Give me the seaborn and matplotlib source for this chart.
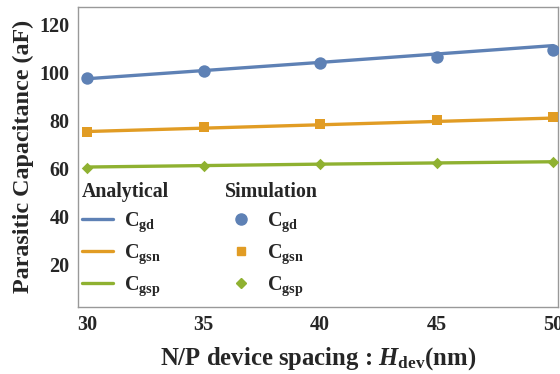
import matplotlib
matplotlib.use("Agg")
import matplotlib.pyplot as plt
from matplotlib.lines import Line2D
import seaborn as sns

spacing = [30, 35, 40, 45, 50]

# analytical model
ana_cgd = [97.5, 100.9, 104.3, 107.8, 111.3]
ana_cgsn = [75.5, 76.9, 78.3, 79.7, 81.1]
ana_cgsp = [60.7, 61.3, 61.9, 62.4, 62.9]

# simulation
sim_cgd = [97.7, 100.7, 103.9, 106.5, 109.6]
sim_cgsn = [75.5, 77.2, 78.6, 80.5, 81.6]
sim_cgsp = [60.5, 61.1, 62.0, 62.3, 62.8]

labels = [r"$\mathbf{C_{gd}}$", r"$\mathbf{C_{gsn}}$", r"$\mathbf{C_{gsp}}$"]
colors = ["#5E81B5", "#E19C24", "#8FB131"]
markers = ["o", "s", "D"]
msizes = [80, 48, 34]

sns.set_style("white")
plt.rcParams["font.family"] = ["Liberation Serif", "DejaVu Serif"]
plt.rcParams["font.weight"] = "bold"
plt.rcParams["mathtext.fontset"] = "custom"
plt.rcParams["mathtext.rm"] = "Liberation Serif:bold"
plt.rcParams["mathtext.bf"] = "Liberation Serif:bold"
plt.rcParams["mathtext.it"] = "Liberation Serif:bold:italic"

fig, ax = plt.subplots(figsize=(5.6, 3.74), dpi=100)

for i, (a, s) in enumerate(zip([ana_cgd, ana_cgsn, ana_cgsp], [sim_cgd, sim_cgsn, sim_cgsp])):
    sns.lineplot(x=spacing, y=a, color=colors[i], lw=2.4, ax=ax, zorder=2)
    sns.scatterplot(x=spacing, y=s, color=colors[i], marker=markers[i], s=msizes[i],
                    zorder=3, linewidth=0, ax=ax)

ax.set_xlim(29.6, 50.2)
ax.set_ylim(2.5, 127.5)
ax.set_xticks([30, 35, 40, 45, 50])
ax.set_yticks([20, 40, 60, 80, 100, 120])
ax.tick_params(direction="in", length=3, color="#999999", labelsize=14.5, pad=6)
for sp in ax.spines.values():
    sp.set_color("#999999")
    sp.set_linewidth(1.0)
for t in ax.get_xticklabels() + ax.get_yticklabels():
    t.set_fontweight("bold")

ax.set_ylabel("Parasitic Capacitance (aF)", fontsize=17.4, fontweight="bold", labelpad=4)
ax.set_xlabel(r"N/P device spacing : $\mathit{H}_{\mathbf{dev}}$(nm)", fontsize=17.8,
              fontweight="bold", labelpad=7)

lh = [Line2D([], [], color=c, lw=2.4) for c in colors]
ph = [Line2D([], [], color=c, marker=m, ls="", ms=ms) for c, m, ms in zip(colors, markers, [8, 6, 5.5])]

common = dict(loc="upper left", frameon=False, fontsize=14.5, handlelength=1.55,
              handletextpad=0.55, labelspacing=0.42, borderaxespad=0.0,
              title_fontproperties={"weight": "bold", "size": 14.3})
leg1 = ax.legend(lh, labels, title="Analytical", bbox_to_anchor=(-0.008, 0.443), **common)
leg1._legend_box.align = "left"
ax.add_artist(leg1)
leg2 = ax.legend(ph, labels, title="Simulation", bbox_to_anchor=(0.29, 0.443), **common)
leg2._legend_box.align = "left"

fig.subplots_adjust(left=0.139, right=0.996, top=0.982, bottom=0.18)
fig.savefig("out.png", dpi=100)
